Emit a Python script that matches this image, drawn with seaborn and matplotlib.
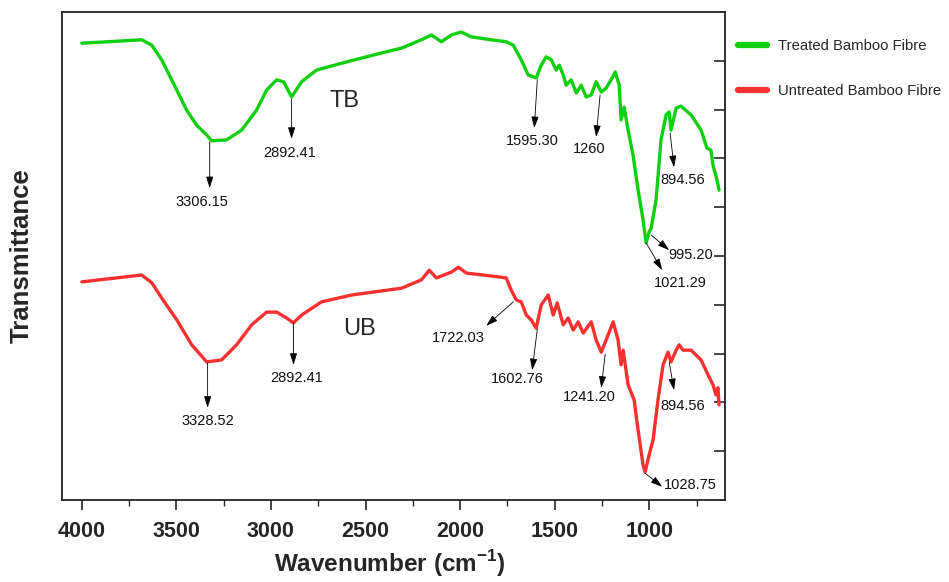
import seaborn as sns
import matplotlib.pyplot as plt
import pandas as pd
from matplotlib.ticker import MultipleLocator

# Espectros FTIR (numero de onda en cm-1, transmitancia en escala arbitraria)
tb_wn = [4000, 3683, 3630, 3578, 3498, 3446, 3393, 3340, 3314, 3234, 3155, 3076, 3023, 2970,
         2933, 2891, 2838, 2759, 2627, 2416, 2310, 2205, 2152, 2099, 2046, 1994, 1941, 1835,
         1756, 1719, 1677, 1640, 1598, 1571, 1545, 1518, 1492, 1476, 1455, 1439, 1413, 1386,
         1360, 1334, 1307, 1281, 1254, 1228, 1202, 1180, 1159, 1149, 1133, 1112, 1086, 1059,
         1033, 1017, 1001, 990, 964, 938, 911, 895, 885, 858, 832, 779, 726, 695, 674, 663,
         642, 631]
tb_t = [93.6, 94.3, 93.2, 90.2, 84.0, 79.9, 76.8, 74.8, 73.6, 73.8, 75.8, 79.9, 84.0, 86.1,
        85.7, 82.6, 85.7, 88.1, 89.5, 91.6, 92.6, 94.3, 95.3, 93.9, 95.3, 95.9, 94.9, 94.3,
        93.9, 93.2, 90.2, 87.1, 86.5, 89.1, 90.8, 90.2, 88.1, 89.1, 87.1, 85.0, 86.1, 83.4,
        85.0, 82.6, 83.0, 85.7, 83.6, 84.4, 86.1, 87.7, 85.0, 77.9, 80.5, 75.8, 70.7, 63.5,
        57.4, 52.7, 54.9, 55.7, 61.5, 73.8, 78.9, 79.5, 75.8, 80.3, 80.7, 78.9, 75.8, 72.1,
        71.7, 68.6, 65.6, 63.5]

ub_wn = [4000, 3683, 3630, 3578, 3498, 3419, 3340, 3261, 3182, 3102, 3023, 2970, 2918, 2881,
         2838, 2733, 2574, 2310, 2205, 2163, 2126, 2046, 2009, 1967, 1835, 1756, 1730, 1703,
         1677, 1650, 1624, 1598, 1571, 1534, 1508, 1487, 1455, 1429, 1402, 1376, 1349, 1307,
         1281, 1254, 1228, 1191, 1165, 1149, 1138, 1112, 1080, 1059, 1033, 1022, 1001, 980,
         954, 927, 901, 885, 858, 842, 821, 779, 726, 689, 663, 647, 637, 631]
ub_t = [44.7, 46.1, 44.5, 41.4, 36.9, 31.8, 28.3, 28.7, 31.8, 35.9, 38.5, 38.5, 37.3, 36.3,
        37.9, 40.6, 42.0, 43.4, 45.1, 47.1, 45.5, 46.7, 47.7, 46.5, 45.9, 45.5, 43.0, 41.0,
        40.6, 37.9, 36.9, 35.2, 40.0, 42.0, 37.9, 40.4, 35.9, 37.3, 34.8, 36.5, 34.2, 36.5,
        32.8, 30.3, 32.8, 36.5, 32.8, 27.7, 30.7, 23.6, 20.5, 14.3, 7.2, 5.7, 9.2, 12.3,
        20.5, 27.7, 30.3, 28.3, 30.7, 31.8, 30.7, 30.7, 28.7, 25.6, 23.6, 21.5, 23.0, 19.5]

series_names = ["Treated Bamboo Fibre", "Untreated Bamboo Fibre"]
series_colors = ["#0fcf0f", "#f83030"]

# Picos marcados: (etiqueta, inicio de flecha, punta de flecha, posicion del texto)
peaks = [
    ("3306.15", (3324, 73.4), (3324, 63.9), (3367, 61.1)),
    ("2892.41", (2891, 82.2), (2891, 74.0), (2904, 71.1)),
    ("1595.30", (1592, 86.1), (1608, 76.2), (1619, 73.6)),
    ("1260", (1260, 83.0), (1281, 74.4), (1318, 71.9)),
    ("894.56", (890, 75.2), (869, 68.2), (822, 65.6)),
    ("995.20", (990, 54.3), (895, 51.2), (779, 50.2)),
    ("1021.29", (1017, 52.7), (932, 47.1), (837, 44.5)),
    ("3328.52", (3335, 28.1), (3335, 18.9), (3335, 16.2)),
    ("2892.41", (2881, 36.3), (2881, 27.7), (2865, 25.0)),
    ("1722.03", (1719, 40.6), (1862, 35.7), (2009, 33.2)),
    ("1602.76", (1592, 35.0), (1619, 26.6), (1698, 24.8)),
    ("1241.20", (1233, 29.9), (1254, 23.0), (1318, 21.1)),
    ("894.56", (895, 28.3), (869, 22.5), (822, 19.3)),
    ("1028.75", (1022, 5.5), (932, 2.7), (785, 3.1)),
]

sns.set_style("ticks")
plt.rcParams['font.family'] = ['Liberation Sans', 'DejaVu Sans']
plt.rcParams['mathtext.fontset'] = 'custom'
plt.rcParams['mathtext.rm'] = 'Liberation Sans:bold'
plt.rcParams['mathtext.bf'] = 'Liberation Sans:bold'

fig = plt.figure(figsize=(9.49, 5.82), dpi=100)
ax = fig.add_axes([0.0653, 0.1409, 0.6986, 0.8385])

sns.lineplot(x=tb_wn, y=tb_t, ax=ax, color=series_colors[0], lw=2.4, label=series_names[0])
sns.lineplot(x=ub_wn, y=ub_t, ax=ax, color=series_colors[1], lw=2.4, label=series_names[1])

for lab, p0, p1, pt in peaks:
    ax.annotate("", xy=p1, xytext=p0,
                arrowprops=dict(arrowstyle="-|>,head_length=0.7,head_width=0.22",
                                color="black", lw=0.6, shrinkA=0, shrinkB=0))
    ax.text(pt[0], pt[1], lab, ha="center", va="center", fontsize=10.5, color="#111111")

ax.text(2611, 81.8, "TB", ha="center", va="center", fontsize=17)
ax.text(2532, 35.0, "UB", ha="center", va="center", fontsize=17)

ax.set_xlim(4105, 600)
ax.set_ylim(0, 100)
ax.xaxis.set_minor_locator(MultipleLocator(250))
ax.set_xticks([4000, 3500, 3000, 2500, 2000, 1500, 1000])
ax.tick_params(axis="x", which="major", direction="out", length=7, width=1.2, pad=8)
ax.tick_params(axis="x", which="minor", direction="out", length=4, width=1.0)
for t in ax.get_xticklabels():
    t.set_fontweight("bold")
    t.set_fontsize(15.5)

ax.yaxis.tick_right()
ax.set_yticks(range(10, 100, 10))
ax.tick_params(axis="y", which="major", direction="in", length=8, width=1.2,
               labelright=False, left=False, labelleft=False)

for s in ax.spines.values():
    s.set_visible(True)
    s.set_linewidth(1.3)
    s.set_color("#222222")

ax.set_xlabel(r"Wavenumber (cm$^{-1}$)", fontsize=17.5, fontweight="bold")
ax.xaxis.set_label_coords(0.495, -0.098)
ax.set_ylabel("Transmittance", fontsize=18.5, fontweight="bold")
ax.yaxis.set_label_position("left")
ax.yaxis.set_label_coords(-0.06, 0.5)
ax.yaxis.label.set_va("center")

leg = ax.legend(loc="upper left", bbox_to_anchor=(1.0, 0.972), frameon=False,
                fontsize=10.7, handlelength=1.9, handletextpad=0.8, labelspacing=2.1)
for h in leg.get_lines():
    h.set_linewidth(4.5)

fig.savefig("out.png", dpi=100)
